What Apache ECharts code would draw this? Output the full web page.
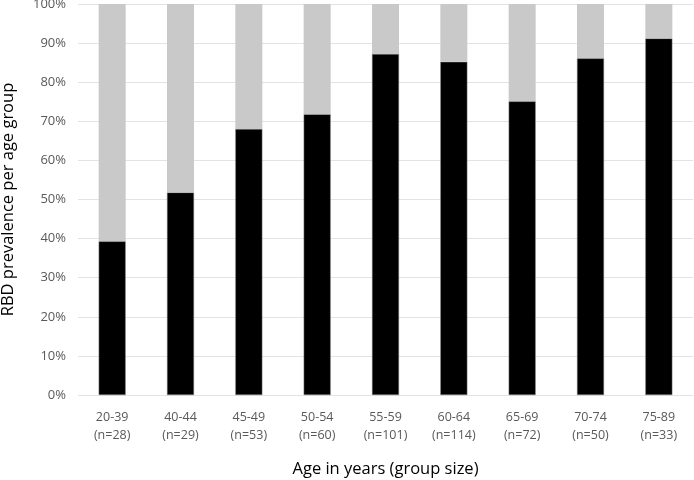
<!DOCTYPE html>
<html><head><meta charset="utf-8">
<script src="https://cdn.jsdelivr.net/npm/echarts@6/dist/echarts.min.js"></script>
<style>html,body{margin:0;padding:0;background:#fff}#c{width:694px;height:480px}</style>
</head><body><div id="c"></div>
<script>
const categories = ['20-39\n(n=28)','40-44\n(n=29)','45-49\n(n=53)','50-54\n(n=60)','55-59\n(n=101)','60-64\n(n=114)','65-69\n(n=72)','70-74\n(n=50)','75-89\n(n=33)'];
const rbdPercent = [39.3, 51.8, 68.0, 71.8, 87.2, 85.2, 75.1, 86.1, 91.2];
const remainderPercent = [60.7, 48.2, 32.0, 28.2, 12.8, 14.8, 24.9, 13.9, 8.8];
const yTicks = [0,10,20,30,40,50,60,70,80,90,100];

const font = "'Open Sans', 'Liberation Sans', sans-serif";
const chart = echarts.init(document.getElementById('c'));
chart.setOption({
  animation: false,
  grid: {left: 78, right: 1, top: 4, bottom: 85, containLabel: false, outerBoundsMode: 'none'},
  xAxis: {
    type: 'category', data: categories,
    axisLine: {show: false}, axisTick: {show: false},
    axisLabel: {color: '#595959', fontFamily: font, fontSize: 12.5, lineHeight: 18, margin: 13},
    name: 'Age in years (group size)', nameLocation: 'middle', nameGap: 66,
    nameTextStyle: {color: '#000', fontFamily: font, fontSize: 16.5}
  },
  yAxis: {
    type: 'value', min: yTicks[0], max: yTicks[yTicks.length-1], interval: 10,
    axisLine: {show: false}, axisTick: {show: false},
    axisLabel: {color: '#595959', fontFamily: font, fontSize: 13, margin: 12, formatter: v => v + '%'},
    splitLine: {lineStyle: {color: '#e3e3e3', width: 1}},
    name: 'RBD prevalence per age group', nameLocation: 'middle', nameGap: 61,
    nameTextStyle: {color: '#000', fontFamily: font, fontSize: 16.5}
  },
  series: [
    {type: 'bar', stack: 's', data: rbdPercent, barWidth: 27,
     itemStyle: {color: '#000', borderColor: '#7f7f7f', borderWidth: 0.5}},
    {type: 'bar', stack: 's', data: remainderPercent, barWidth: 27,
     itemStyle: {color: '#c9c9c9'}}
  ]
});
</script></body></html>
